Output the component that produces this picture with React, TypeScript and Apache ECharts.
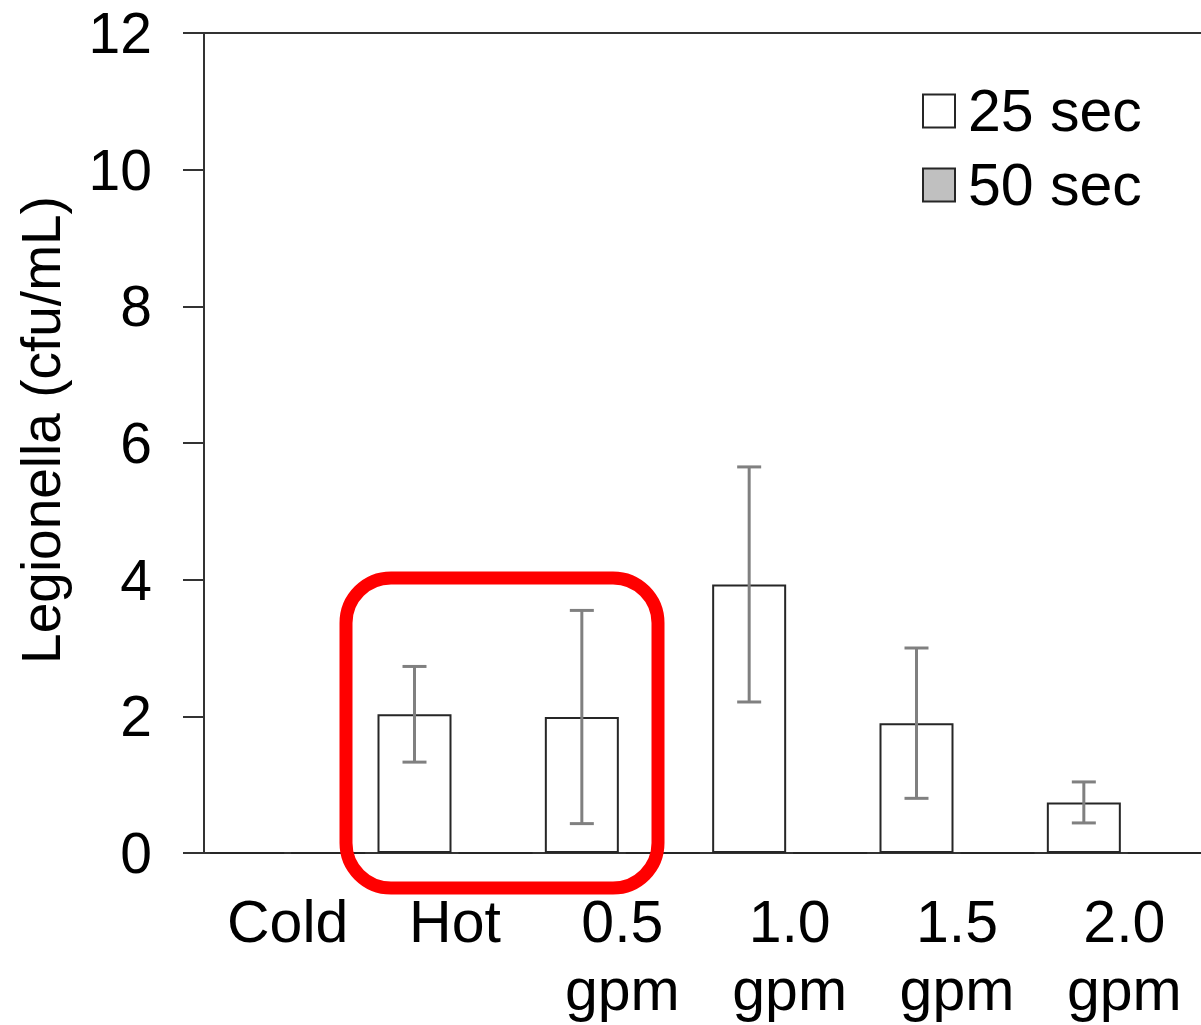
import React, { useEffect, useRef } from "react";
import * as echarts from "echarts";

const categories = ["Cold", "Hot", "0.5\ngpm", "1.0\ngpm", "1.5\ngpm", "2.0\ngpm"];
const sec25 = [0, 2.03, 1.99, 3.93, 1.9, 0.74];
const sec25Err = [0, 0.7, 1.56, 1.72, 1.1, 0.3];
const sec50 = [0, 0, 0, 0, 0, 0];
const seriesNames = ["25 sec", "50 sec"];
const yTicks = { min: 0, max: 12, interval: 2 };

const FONT = "'Liberation Sans', Arial, sans-serif";
const AXIS_COLOR = "#333333";
const BAR_W = 74;
const BAR_GAP_PX = 7;

export default function App() {
  const ref = useRef<HTMLDivElement>(null);
  useEffect(() => {
    document.body.style.margin = "0";
    document.body.style.overflow = "hidden";
    document.documentElement.style.overflow = "hidden";
    if (!ref.current) return;
    const chart = echarts.init(ref.current, undefined, { renderer: "svg" });
    const errData = sec25
      .map((v, i) => [i, v - sec25Err[i], v + sec25Err[i], sec25Err[i]])
      .filter((d) => d[3] > 0);
    const offset = -(BAR_W / 2 + BAR_GAP_PX / 2);
    chart.setOption({
      animation: false,
      textStyle: { fontFamily: FONT },
      grid: { left: 204, right: 0, top: 33, bottom: 172 },
      legend: {
        data: seriesNames,
        orient: "vertical",
        left: 917,
        top: 76,
        icon: "rect",
        itemWidth: 32,
        itemHeight: 33,
        itemGap: 14,
        textStyle: {
          fontSize: 59,
          lineHeight: 60,
          color: "#000",
          fontFamily: FONT,
          padding: [0, 0, 0, 8],
        },
      },
      xAxis: [
        {
          type: "category",
          data: categories,
          axisLine: { lineStyle: { color: AXIS_COLOR, width: 2 } },
          axisTick: { show: false },
          axisLabel: {
            fontSize: 59,
            lineHeight: 68,
            color: "#000",
            margin: 35,
            interval: 0,
            fontFamily: FONT,
          },
        },
        {
          type: "category",
          data: categories,
          position: "top",
          axisLine: { lineStyle: { color: AXIS_COLOR, width: 2 } },
          axisTick: { show: false },
          axisLabel: { show: false },
        },
      ],
      yAxis: {
        type: "value",
        min: yTicks.min,
        max: yTicks.max,
        interval: yTicks.interval,
        name: "Legionella (cfu/mL)",
        nameLocation: "middle",
        nameGap: 136,
        nameTextStyle: { fontSize: 55, color: "#000", fontFamily: FONT, padding: [0, 0, 0, 26] },
        axisLine: { show: true, lineStyle: { color: AXIS_COLOR, width: 2 } },
        axisTick: { show: true, length: 21, lineStyle: { color: AXIS_COLOR, width: 2 } },
        splitLine: { show: false },
        axisLabel: { fontSize: 57, color: "#000", margin: 52, fontFamily: FONT },
      },
      series: [
        {
          name: seriesNames[0],
          type: "bar",
          data: sec25,
          barWidth: BAR_W,
          barGap: (BAR_GAP_PX / BAR_W) * 100 + "%",
          itemStyle: { color: "#ffffff", borderColor: "#262626", borderWidth: 2 },
        },
        {
          name: seriesNames[1],
          type: "bar",
          data: sec50,
          barWidth: BAR_W,
          itemStyle: { color: "#c0c0c0", borderColor: "#262626", borderWidth: 2 },
        },
        {
          type: "custom",
          data: errData,
          encode: { x: 0, y: [1, 2] },
          z: 10,
          renderItem: (params: any, api: any) => {
            const i = api.value(0);
            const lo = api.coord([i, api.value(1)]);
            const hi = api.coord([i, api.value(2)]);
            const cx = lo[0] + offset;
            const cap = 12;
            const style = { stroke: "#808080", lineWidth: 3 };
            return {
              type: "group",
              children: [
                { type: "line", shape: { x1: cx, y1: lo[1], x2: cx, y2: hi[1] }, style },
                { type: "line", shape: { x1: cx - cap, y1: hi[1], x2: cx + cap, y2: hi[1] }, style },
                { type: "line", shape: { x1: cx - cap, y1: lo[1], x2: cx + cap, y2: lo[1] }, style },
              ],
            };
          },
        },
      ],
      graphic: [
        {
          type: "rect",
          z: 100,
          shape: { x: 346, y: 578, width: 312, height: 310, r: 45 },
          style: { fill: "none", stroke: "#ff0000", lineWidth: 13 },
        },
      ],
    });
    return () => chart.dispose();
  }, []);
  return <div ref={ref} style={{ width: 1208, height: 1025 }} />;
}
